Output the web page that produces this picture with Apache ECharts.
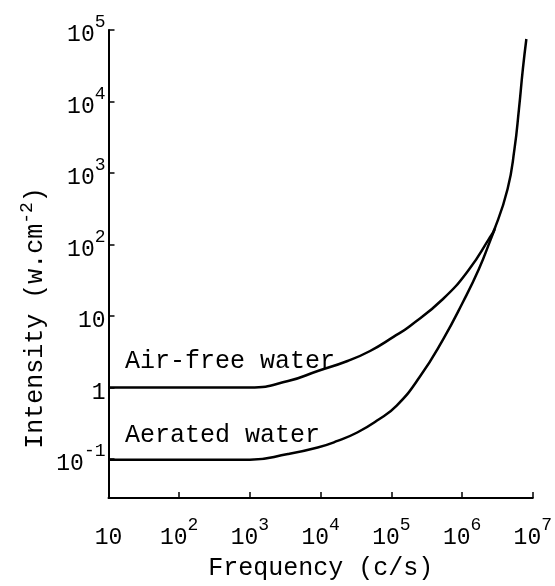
<!DOCTYPE html>
<html><head><meta charset="utf-8">
<script src="https://cdn.jsdelivr.net/npm/echarts@6/dist/echarts.min.js"></script>
<style>html,body{margin:0;padding:0;background:#fff}#c{width:555px;height:586px}</style>
</head><body><div id="c"></div>
<script>
// Frequency (c/s) and intensity (W/cm^2)
const airFreeFreq = [10, 1000, 3470, 9100, 24000, 50000, 107000, 182000, 537000, 1260000, 2400000, 2880000, 4400000, 5510000, 6370000, 7240000, 8110000];
const airFreeIntensity = [1.0, 1.0, 1.23, 1.70, 2.35, 3.24, 5.1, 7.2, 17.3, 45, 120, 165, 597, 2170, 7850, 28500, 74800];
const aeratedFreq = [10, 1000, 3450, 9080, 17300, 32900, 62700, 119000, 251000, 542000, 1030000, 1730000, 2550000, 2900000];
const aeratedIntensity = [0.098, 0.098, 0.1175, 0.145, 0.179, 0.235, 0.345, 0.56, 1.40, 4.76, 15.7, 45.4, 119, 165];
const seriesNames = ['Air-free water', 'Aerated water'];
const xTitle = 'Frequency (c/s)';
const yTitle = 'Intensity (w.cm{s|-2})';

const FONT = 'Liberation Mono';
function pow10Label(v) {
  const l = Math.log10(v);
  const e = Math.round(l);
  if (Math.abs(l - e) > 1e-6) return '';
  if (e === 0) return '{b|1}';
  if (e === 1) return '{b|10}';
  return '{b|10}{s|' + e + '}';
}
const labelRich = {
  b: {fontFamily: FONT, fontSize: 23, color: '#000', verticalAlign: 'bottom', lineHeight: 33},
  s: {fontFamily: FONT, fontSize: 18, color: '#000', verticalAlign: 'top', lineHeight: 33}
};
const axisCommon = {
  type: 'log', logBase: 10,
  axisLine: {show: true, onZero: false, lineStyle: {color: '#000', width: 2}},
  axisTick: {show: true, inside: true, length: 6, lineStyle: {color: '#000', width: 1.5}},
  minorTick: {show: false},
  splitLine: {show: false},
  minorSplitLine: {show: false}
};
const chart = echarts.init(document.getElementById('c'), null, {renderer: 'canvas'});
chart.setOption({
  animation: false,
  backgroundColor: '#fff',
  grid: {left: 108.5, right: 18, top: 30, bottom: 88, containLabel: false},
  xAxis: Object.assign({}, axisCommon, {
    min: 10, max: 1e7,
    axisLabel: {formatter: pow10Label, rich: labelRich, margin: 18, fontFamily: FONT, fontSize: 23, color: '#000', showMinLabel: true, showMaxLabel: true, hideOverlap: false},
    name: xTitle, nameLocation: 'middle', nameGap: 58,
    nameTextStyle: {fontFamily: FONT, fontSize: 25, color: '#000'}
  }),
  yAxis: Object.assign({}, axisCommon, {
    min: 0.0285, max: 1e5,
    axisLabel: {formatter: pow10Label, rich: labelRich, margin: 3, fontFamily: FONT, fontSize: 23, color: '#000', showMinLabel: true, showMaxLabel: true, hideOverlap: false}
  }),
  graphic: [
    {type: 'text', x: 35, y: 318, rotation: Math.PI / 2,
     style: {text: yTitle, fontFamily: FONT, fontSize: 25, fill: '#000', align: 'center', verticalAlign: 'middle',
       rich: {s: {fontFamily: FONT, fontSize: 18, fill: '#000', verticalAlign: 'top', lineHeight: 34}}}},
    {type: 'text', x: 125, y: 361, style: {text: seriesNames[0], fontFamily: FONT, fontSize: 25, fill: '#000', align: 'left', verticalAlign: 'middle'}},
    {type: 'text', x: 125, y: 435, style: {text: seriesNames[1], fontFamily: FONT, fontSize: 25, fill: '#000', align: 'left', verticalAlign: 'middle'}}
  ],
  series: [
    {name: seriesNames[0], type: 'line', showSymbol: false, smooth: 0.5,
     lineStyle: {color: '#000', width: 2.5}, itemStyle: {color: '#000'},
     data: airFreeFreq.map((f, i) => [f, airFreeIntensity[i]])},
    {name: seriesNames[1], type: 'line', showSymbol: false, smooth: 0.5,
     lineStyle: {color: '#000', width: 2.5}, itemStyle: {color: '#000'},
     data: aeratedFreq.map((f, i) => [f, aeratedIntensity[i]])}
  ]
});
</script></body></html>
